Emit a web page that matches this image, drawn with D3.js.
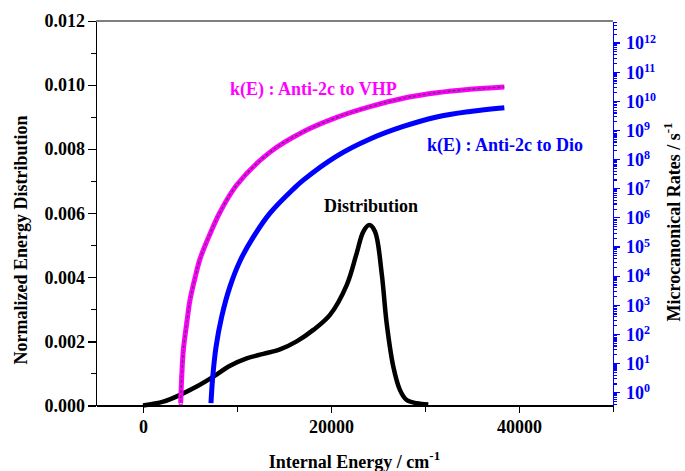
<!DOCTYPE html>
<html>
<head>
<meta charset="utf-8">
<script src="https://cdn.jsdelivr.net/npm/d3@7"></script>
<style>
  body { margin: 0; background: #fff; }
  svg { display: block; font-family: "Liberation Serif", "Times New Roman", serif; font-weight: bold; }
  .axis text { font-size: 18px; font-weight: bold; font-family: "Liberation Serif", serif; }
  .axis path, .axis line { shape-rendering: crispEdges; }
</style>
</head>
<body>
<div id="chart"></div>
<script>
const width = 685;
const height = 471;
const margin = { top: 21, right: 72, bottom: 65.5, left: 96 };

// energy distribution (left axis)
const distEnergy = [0, 2150, 3940, 5710, 7490, 9260, 11030, 12800, 14570, 16350, 18120, 19890,
    21670, 22730, 23440, 24080, 24680, 25390, 25920, 26630, 27340, 28050, 29110, 30350];
const distValue = [0, 0.00012, 0.00033, 0.00059, 0.0009, 0.00124, 0.00147, 0.00161, 0.00175, 0.002,
    0.00236, 0.00283, 0.00376, 0.00475, 0.00543, 0.00563, 0.00543, 0.00413, 0.00257, 0.00121,
    0.00048, 0.00017, 0.00007, 0.00003];

// k(E) Anti-2c -> VHP (right axis, s^-1)
const vhpEnergy = [4010, 4120, 4290, 4650, 5000, 5530, 6060, 7130, 8190, 9970, 13510, 17050,
    20610, 24150, 27690, 31250, 34790, 38440];
const vhpRate = [0.43, 3.4, 28, 230, 1.46e3, 8.3e3, 3.7e4, 2.7e5, 1.5e6, 1.29e7, 1.74e8, 8.7e8,
    2.7e9, 6.3e9, 1.23e10, 1.9e10, 2.5e10, 3.0e10];

// k(E) Anti-2c -> Dio (right axis, s^-1)
const dioEnergy = [7230, 7420, 7770, 8370, 9250, 10320, 11730, 13510, 15990, 17050, 20610, 24150,
    27690, 31250, 34790, 38440];
const dioRate = [0.42, 3.4, 36, 390, 4.2e3, 3.2e4, 2.1e5, 1.4e6, 9.4e6, 1.9e7, 1.27e8, 4.9e8,
    1.32e9, 2.8e9, 4.3e9, 5.8e9];

const xTicks = [0, 20000, 40000];
const xMinor = [10000, 30000, 50000];
const yTicks = [0, 0.002, 0.004, 0.006, 0.008, 0.010, 0.012];
const yMinor = [0.001, 0.003, 0.005, 0.007, 0.009, 0.011];
const rateExponents = [0, 1, 2, 3, 4, 5, 6, 7, 8, 9, 10, 11, 12];

const x = d3.scaleLinear().domain([-5000, 50000]).range([margin.left, width - margin.right]);
const y = d3.scaleLinear().domain([0, 0.012]).range([height - margin.bottom, margin.top]);
const yR = d3.scaleLog().domain([0.35, 5.5e12]).range([height - margin.bottom, margin.top]);

const svg = d3.select("#chart").append("svg")
    .attr("width", width)
    .attr("height", height);

const x0 = margin.left, x1 = width - margin.right;
const y0 = height - margin.bottom, y1 = margin.top;

// top border
svg.append("line")
    .attr("x1", x0).attr("x2", x1).attr("y1", y1).attr("y2", y1)
    .attr("stroke", "#000").attr("stroke-width", 1.2);

// bottom axis
svg.append("g")
    .attr("class", "axis")
    .attr("transform", `translate(0,${y0})`)
    .call(d3.axisBottom(x).tickValues(xMinor).tickSize(6).tickSizeOuter(0).tickFormat(""))
    .call(g => g.select(".domain").remove());
svg.append("g")
    .attr("class", "axis")
    .attr("transform", `translate(0,${y0})`)
    .call(d3.axisBottom(x).tickValues(xTicks).tickSize(7).tickSizeOuter(0).tickPadding(8).tickFormat(d3.format("d")))
    .call(g => g.selectAll("line,path").attr("stroke-width", 1.2));

// left axis
svg.append("g")
    .attr("class", "axis")
    .attr("transform", `translate(${x0},0)`)
    .call(d3.axisLeft(y).tickValues(yMinor).tickSize(5).tickSizeOuter(0).tickFormat(""))
    .call(g => g.select(".domain").remove());
svg.append("g")
    .attr("class", "axis")
    .attr("transform", `translate(${x0},0)`)
    .call(d3.axisLeft(y).tickValues(yTicks).tickSize(8).tickSizeOuter(0).tickPadding(3).tickFormat(d3.format(".3f")))
    .call(g => g.selectAll("line,path").attr("stroke-width", 1.2));

// right log axis (blue)
const minorRates = [];
for (let e = -1; e <= 12; e++) {
    for (let m = 2; m <= 9; m++) {
        const v = m * Math.pow(10, e);
        if (v >= yR.domain()[0] && v <= yR.domain()[1]) minorRates.push(v);
    }
}
const rAxis = svg.append("g")
    .attr("class", "axis")
    .attr("transform", `translate(${x1},0)`);
rAxis.append("g")
    .call(d3.axisRight(yR).tickValues(minorRates).tickSize(4).tickSizeOuter(0).tickFormat(""))
    .call(g => g.select(".domain").remove());
const majorG = rAxis.append("g")
    .call(d3.axisRight(yR).tickValues(rateExponents.map(e => Math.pow(10, e))).tickSize(7).tickSizeOuter(0).tickFormat(""));
rAxis.selectAll("line,path").attr("stroke", "#0000ff").attr("stroke-width", 1.2);
majorG.selectAll(".tick text").remove();
majorG.selectAll(".tick")
    .append("text")
    .attr("x", 13)
    .attr("dy", "0.35em")
    .attr("fill", "#0000ff")
    .attr("text-anchor", "start")
    .each(function (d) {
        const t = d3.select(this);
        t.append("tspan").text("10");
        t.append("tspan")
            .attr("dy", "-0.55em")
            .style("font-size", "12px")
            .text(Math.round(Math.log10(d)));
    });

// curves
const smooth = d3.curveCatmullRom.alpha(0.5);

const distLine = d3.line()
    .x((d, i) => x(distEnergy[i]))
    .y(d => y(d))
    .curve(smooth);

svg.append("path")
    .datum(distValue)
    .attr("fill", "none")
    .attr("stroke", "#000")
    .attr("stroke-width", 4.5)
    .attr("d", distLine);

const dioLine = d3.line()
    .x((d, i) => x(dioEnergy[i]))
    .y(d => yR(d))
    .curve(smooth);

svg.append("path")
    .datum(dioRate)
    .attr("fill", "none")
    .attr("stroke", "#0000ff")
    .attr("stroke-width", 5)
    .attr("d", dioLine);

const vhpLine = d3.line()
    .x((d, i) => x(vhpEnergy[i]))
    .y(d => yR(d))
    .curve(smooth);

svg.append("path")
    .datum(vhpRate)
    .attr("fill", "none")
    .attr("stroke", "#ff00ff")
    .attr("stroke-width", 5)
    .attr("d", vhpLine);

svg.append("path")
    .datum(vhpRate)
    .attr("fill", "none")
    .attr("stroke", "#444")
    .attr("stroke-width", 1.2)
    .attr("stroke-dasharray", "3,2")
    .attr("d", vhpLine);

// small square markers on the steep lower part
svg.selectAll(".vhp-mark")
    .data(vhpRate.slice(0, 6))
    .join("rect")
    .attr("class", "vhp-mark")
    .attr("x", (d, i) => x(vhpEnergy[i]) - 1.5)
    .attr("y", d => yR(d) - 1.5)
    .attr("width", 3)
    .attr("height", 3)
    .attr("fill", "none")
    .attr("stroke", "#ff00ff")
    .attr("stroke-width", 1);

// in-plot labels
svg.append("text")
    .attr("x", 230).attr("y", 95)
    .attr("fill", "#ff00ff")
    .style("font-size", "18px")
    .text("k(E) : Anti-2c to VHP");

svg.append("text")
    .attr("x", 427).attr("y", 151)
    .attr("fill", "#0000ff")
    .style("font-size", "18px")
    .text("k(E) : Anti-2c to Dio");

svg.append("text")
    .attr("x", 324).attr("y", 212)
    .attr("fill", "#000")
    .style("font-size", "18px")
    .text("Distribution");

// axis titles
const xt = svg.append("text")
    .attr("x", (x0 + x1) / 2)
    .attr("y", 468)
    .attr("text-anchor", "middle")
    .style("font-size", "18px");
xt.append("tspan").text("Internal Energy / cm");
xt.append("tspan").attr("dy", "-0.6em").style("font-size", "13px").text("-1");

svg.append("text")
    .attr("transform", "translate(27,240) rotate(-90)")
    .attr("text-anchor", "middle")
    .style("font-size", "18px")
    .text("Normalized Energy Distribution");

const rt = svg.append("text")
    .attr("transform", "translate(680,222) rotate(-90)")
    .attr("text-anchor", "middle")
    .style("font-size", "18px");
rt.append("tspan").text("Microcanonical Rates / s");
rt.append("tspan").attr("dy", "-0.6em").style("font-size", "13px").text("-1");
</script>
</body>
</html>
